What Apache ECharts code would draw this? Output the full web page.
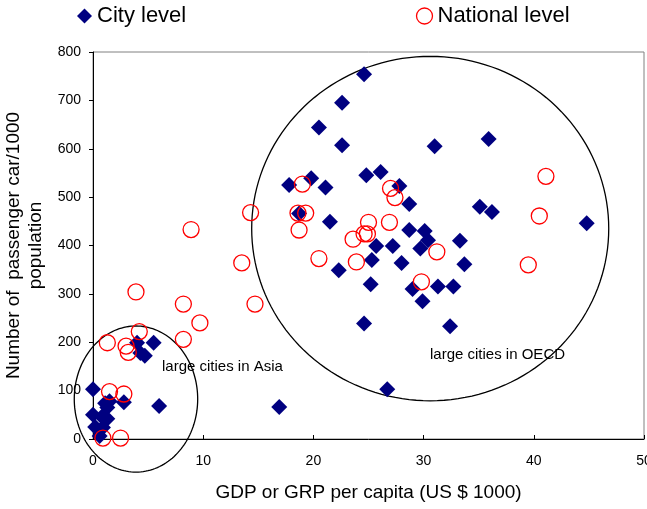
<!DOCTYPE html>
<html>
<head>
<meta charset="utf-8">
<script src="https://cdn.jsdelivr.net/npm/echarts@6/dist/echarts.min.js"></script>
<style>
  html, body { margin: 0; padding: 0; background: #fff; }
  #chart { width: 647px; height: 509px; }
</style>
</head>
<body>
<div id="chart"></div>
<script>
// ---- Data ----
const cityGdp = [
  0.0, 1.1, 1.5, 2.8, 1.3, 6.0, 0.0, 0.8, 1.3, 0.2, 0.9, 0.6,
  4.0, 5.5, 4.3, 4.7, 16.9,
  24.6, 22.6, 20.5, 22.6, 31.0, 35.9, 24.8, 26.1, 19.8, 17.8, 21.1, 27.8,
  28.7, 35.1, 36.2, 44.8, 18.7, 21.5, 28.7, 30.1, 30.4, 33.3, 25.7, 27.2,
  29.7, 25.3, 28.0, 33.7, 22.3, 25.2, 29.0, 31.3, 32.7, 29.9, 24.6, 32.4, 26.7
];
const cityCars = [
  103, 74, 78, 76, 65, 68, 50, 46, 42, 25, 24, 6,
  199, 199, 178, 172, 66,
  754, 695, 644, 607, 605, 620, 545, 552, 539, 525, 520, 523,
  486, 480, 469, 446, 466, 449, 432, 430, 411, 410, 399, 399,
  394, 370, 364, 361, 349, 320, 310, 315, 315, 285, 239, 233, 103
];
const nationalGdp = [
  1.3, 4.2, 3.0, 3.2, 8.2, 9.7, 1.5, 2.8, 0.9, 2.5, 3.9, 8.2, 8.9,
  13.5, 14.3, 14.7, 19.0, 18.6, 19.3, 18.7, 20.5, 25.0, 26.9, 23.6, 24.6,
  24.9, 23.9, 27.0, 27.4, 31.2, 29.8, 41.1, 40.5, 39.5
];
const nationalCars = [
  199, 222, 192, 179, 206, 240, 98, 93, 2, 2, 304, 279, 433,
  364, 468, 279, 527, 467, 467, 432, 373, 448, 448, 413, 424,
  424, 366, 518, 499, 387, 325, 543, 461, 360
];
const xTicks = [0, 10, 20, 30, 40, 50];
const yTicks = [0, 100, 200, 300, 400, 500, 600, 700, 800];

// Highlighted regions (ellipses in data units): centre x, centre y, radius x, radius y
const regionLabels = ['large cities in Asia', 'large cities in OECD'];
const regionCx = [3.9, 30.6];
const regionCy = [82.6, 435];
const regionRx = [5.6, 16.2];
const regionRy = [151, 356];

const FONT = 'Liberation Sans, Arial, sans-serif';

const cityData = cityGdp.map((x, i) => [x, cityCars[i]]);
const nationalData = nationalGdp.map((x, i) => [x, nationalCars[i]]);
const regionData = regionCx.map((cx, i) => [cx, regionCy[i], regionRx[i], regionRy[i]]);

const chart = echarts.init(document.getElementById('chart'));
chart.setOption({
  animation: false,
  backgroundColor: '#fff',
  textStyle: { fontFamily: FONT },
  grid: {
    left: 93, right: 3, top: 52, bottom: 70,
    containLabel: false, outerBoundsMode: 'none',
    show: true, borderColor: '#808080', borderWidth: 1, backgroundColor: 'transparent'
  },
  legend: [
    {
      left: 72, top: 0, itemWidth: 15, itemHeight: 15,
      data: [{ name: 'City level', icon: 'diamond' }],
      textStyle: { fontFamily: FONT, fontSize: 22, color: '#000' }
    },
    {
      left: 409, top: 0, itemWidth: 16, itemHeight: 16,
      data: [{ name: 'National level', icon: 'circle',
               itemStyle: { color: 'none', borderColor: '#ff0000', borderWidth: 1.3 } }],
      textStyle: { fontFamily: FONT, fontSize: 22, color: '#000' }
    }
  ],
  xAxis: {
    type: 'value', min: xTicks[0], max: xTicks[xTicks.length - 1], interval: 10,
    name: 'GDP or GRP per capita (US $ 1000)', nameLocation: 'middle', nameGap: 44,
    nameTextStyle: { fontFamily: FONT, fontSize: 19, color: '#000' },
    axisLine: { show: true, lineStyle: { color: '#000', width: 1 } },
    axisTick: { show: true, inside: true, length: 4, lineStyle: { color: '#000' } },
    axisLabel: { fontFamily: FONT, fontSize: 14, color: '#000', margin: 15 },
    splitLine: { show: false }
  },
  yAxis: {
    type: 'value', min: yTicks[0], max: yTicks[yTicks.length - 1], interval: 100,
    name: 'Number of  passenger car/1000\npopulation', nameLocation: 'middle', nameGap: 42,
    nameRotate: 90,
    nameTextStyle: { fontFamily: FONT, fontSize: 19, color: '#000', lineHeight: 22 },
    axisLine: { show: true, lineStyle: { color: '#000', width: 1 } },
    axisTick: { show: true, inside: false, length: 4, lineStyle: { color: '#000' } },
    axisLabel: { fontFamily: FONT, fontSize: 14, color: '#000', margin: 12 },
    splitLine: { show: false }
  },
  graphic: [
    { type: 'text', left: 162, top: 359, silent: true,
      style: { text: regionLabels[0], font: '15px ' + FONT, fill: '#000' } },
    { type: 'text', left: 430, top: 347, silent: true,
      style: { text: regionLabels[1], font: '15px ' + FONT, fill: '#000' } }
  ],
  series: [
    {
      name: 'regions', type: 'custom', silent: true, clip: false, z: 1,
      data: regionData,
      encode: { x: 0, y: 1 },
      renderItem: function (params, api) {
        const cx = api.value(0), cy = api.value(1), rx = api.value(2), ry = api.value(3);
        const pts = [];
        for (let k = 0; k <= 160; k++) {
          const a = k / 160 * 2 * Math.PI;
          pts.push(api.coord([cx + rx * Math.cos(a), cy + ry * Math.sin(a)]));
        }
        return { type: 'polygon', shape: { points: pts },
                 style: { fill: 'none', stroke: '#000', lineWidth: 1.3 } };
      }
    },
    {
      name: 'City level', type: 'scatter', symbol: 'diamond', symbolSize: 16, z: 3,
      itemStyle: { color: '#000080', opacity: 1 },
      data: cityData
    },
    {
      name: 'National level', type: 'scatter', symbol: 'circle', symbolSize: 16, z: 4,
      itemStyle: { color: 'none', borderColor: '#ff0000', borderWidth: 1.3, opacity: 1 },
      data: nationalData
    }
  ]
});
</script>
</body>
</html>
